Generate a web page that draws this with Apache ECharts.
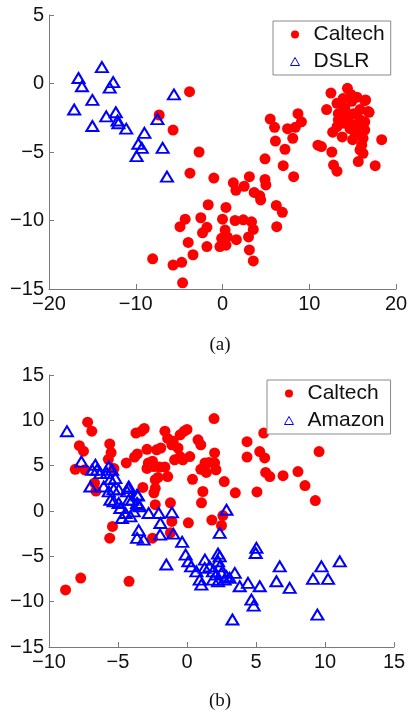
<!DOCTYPE html>
<html>
<head>
<meta charset="utf-8">
<script src="https://cdn.jsdelivr.net/npm/echarts@6/dist/echarts.min.js"></script>
<style>
html,body{margin:0;padding:0;background:#fff;}
#c{width:409px;height:713px;}
</style>
</head>
<body>
<div id="c"></div>
<script>
// ---- Panel (a): Caltech vs DSLR ----
var caltechA = [
  [-3.8,-0.6],[-7.3,-2.3],[-5.7,-3.4],[-2.7,-5.0],[-3.75,-6.55],[-1.0,-6.9],
  [5.5,-2.6],[6.0,-3.2],[7.5,-3.3],[8.7,-2.2],[9.1,-2.8],[8.4,-3.2],[8.1,-4.0],[6.1,-4.2],[7.2,-4.8],
  [4.9,-5.5],[7.0,-6.0],[8.2,-6.8],[4.9,-7.0],[5.0,-7.4],
  [11.0,-4.5],[11.4,-4.6],[12.6,-5.0],[12.8,-5.95],[13.2,-6.4],[12.5,-0.7],[14.4,-0.35],[12.0,-1.9],
  [13.2,-1.45],[13.9,-1.1],[14.9,-1.3],[16.4,-1.25],[16.8,-2.05],[15.85,-1.9],[13.35,-2.2],[14.1,-1.8],
  [15.1,-2.2],[13.35,-2.65],[14.5,-2.65],[15.85,-2.65],[16.4,-2.8],[13.2,-3.15],[14.7,-3.3],[15.85,-3.4],
  [12.7,-3.55],[16.4,-3.4],[15.3,-3.6],[16.2,-4.0],[16.05,-4.5],[18.35,-4.1],[15.85,-4.85],[16.2,-5.1],
  [15.65,-5.7],[17.6,-6.0],[16.5,-1.2],[16.9,-2.1],
  [14.0,-2.9],[15.5,-1.0],[13.8,-3.9],[15.0,-4.1],[14.8,-0.8],[15.4,-3.0],[14.3,-2.3],
  [1.25,-7.25],[1.55,-7.8],[2.5,-7.5],[3.1,-6.8],[3.65,-7.95],[4.4,-8.5],[4.3,-8.2],[6.2,-8.9],[6.9,-9.4],
  [6.25,-10.45],[-1.65,-8.85],[0.4,-9.05],[-4.3,-9.9],[-4.9,-10.45],[-2.5,-9.8],[-1.8,-10.5],[-2.3,-10.9],
  [0.0,-9.9],[1.45,-10.0],[2.4,-9.95],[3.35,-10.1],[3.55,-10.65],[3.0,-11.2],[0.3,-10.7],[0.55,-11.2],
  [-0.1,-11.3],[-0.3,-11.9],[0.4,-11.8],[1.6,-11.4],[-3.95,-11.6],[-1.8,-11.9],[-3.4,-12.5],[3.1,-12.15],
  [3.55,-12.95],[-8.05,-12.8],[-5.7,-13.25],[-4.7,-13.05],[-4.6,-14.55]
];
var dslrA = [
  [-13.9,1.2],[-16.6,0.4],[-16.2,-0.2],[-12.6,0.1],[-13.0,-0.3],[-15.0,-1.2],[-17.1,-1.9],[-13.4,-2.4],
  [-12.3,-2.1],[-12.1,-2.7],[-12.0,-2.9],[-15.0,-3.1],[-11.1,-3.3],[-5.6,-0.8],[-7.5,-2.6],[-9.0,-3.6],
  [-9.7,-4.4],[-9.3,-4.7],[-9.9,-5.3],[-6.9,-4.7],[-6.4,-6.8]
];
// ---- Panel (b): Caltech vs Amazon ----
var caltechB = [
  [-7.2,9.8],[-6.9,8.8],[-7.8,7.2],[-7.5,6.6],[-8.1,4.6],[-7.4,4.55],[-5.6,7.4],[-5.5,6.45],[-5.7,5.7],
  [-5.3,4.7],[-6.7,3.1],[-6.6,2.2],[-3.7,8.6],[-3.3,8.8],[-3.1,9.1],[-4.4,5.3],[-3.8,5.95],[-3.6,6.3],
  [-2.9,6.8],[-2.9,4.7],[-2.4,4.9],[-2.8,5.3],[-2.5,5.5],[-3.2,2.6],[-2.3,2.5],[-2.4,2.0],[-2.3,0.7],
  [-2.1,3.7],[-2.3,3.45],
  [-1.6,8.8],[-1.4,8.0],[-0.5,8.4],[-0.2,8.8],[0.0,9.0],[-1.0,7.7],[-1.1,7.3],[0.8,7.85],[1.0,7.3],
  [-2.2,6.75],[-1.9,6.95],[-0.65,6.95],[-0.5,6.0],[-0.9,5.65],[-0.3,5.65],[0.2,6.0],[1.3,5.3],[1.6,5.35],
  [2.0,5.3],[1.0,4.6],[1.4,4.25],[2.1,4.55],[-1.6,4.85],[-2.0,4.85],[0.4,3.5],[2.7,3.25],[1.15,2.15],
  [3.5,2.0],[1.05,0.9],[-1.4,3.8],[-1.2,0.9],[0.1,-1.3],[1.8,-1.0],[2.6,-0.5],[2.5,-1.6],[-1.1,-1.15],
  [-1.2,-2.4],[-2.5,-3.0],[-5.4,-1.7],[-5.6,-3.0],[-8.8,-8.7],[-7.7,-7.4],[-4.2,-7.75],
  [1.96,10.2],[2.0,6.4],[4.35,7.65],[5.56,8.6],[4.35,5.95],[5.27,6.55],[5.63,5.85],[5.7,4.25],[6.0,3.8],
  [5.07,2.1],[6.96,3.9],[8.04,4.35],[8.55,2.8],[9.3,1.15],[9.57,6.55]
];
var amazonB = [
  [-8.7,8.8],[-7.65,5.45],[-6.64,5.1],[-6.52,4.55],[-6.88,4.55],[-6.28,4.18],[-7.0,2.7],[-5.67,4.9],
  [-5.43,4.55],[-5.8,4.18],[-5.19,3.63],[-5.55,3.52],[-6.04,2.7],[-5.67,2.16],[-5.31,2.42],[-4.95,2.35],
  [-4.22,2.7],[-4.34,2.16],[-3.62,1.8],[-5.55,1.24],[-5.31,1.06],[-4.95,0.88],[-4.22,1.24],[-3.98,1.24],
  [-3.62,0.88],[-3.5,0.69],[-4.83,0.33],[-4.46,-0.22],[-4.1,-0.59],[-3.86,-0.04],[-4.71,-0.77],
  [-2.78,-0.22],[-2.05,-0.22],[-1.09,-0.15],[-1.93,-1.32],[-1.0,-2.5],[-1.95,-2.61],[-3.5,-2.1],
  [-3.62,-2.97],[-3.14,-3.16],[-0.35,-3.4],[-1.5,-5.9],[-0.1,-4.81],[0.1,-5.54],[1.3,-5.36],[0.3,-6.1],
  [2.86,0.14],[2.37,-2.42],[-4.27,2.53],[-3.55,1.69],[-3.43,0.51],[0.68,-6.65],[0.92,-7.57],[1.04,-8.12],
  [1.64,-6.1],[1.28,-6.28],[1.88,-6.65],[2.13,-7.01],[2.25,-7.75],[1.88,-7.57],[2.37,-5.0],[2.25,-5.54],
  [2.37,-6.1],[2.49,-6.83],[2.86,-7.2],[3.09,-7.38],[2.73,-7.57],[3.46,-6.83],[2.25,-4.7],[3.29,-11.97],
  [3.82,-8.3],[4.42,-7.93],[4.67,-9.77],[4.83,-10.43],[5.03,-4.07],[4.98,-4.63],[5.27,-8.3],[6.48,-7.75],
  [6.72,-6.1],[7.44,-8.48],[9.13,-7.49],[9.74,-6.1],[10.22,-7.49],[9.45,-11.42],[11.07,-5.55]
];
var xTicksA = {min:-20, max:20, interval:10};
var yTicksA = {min:-15, max:5, interval:5};
var xTicksB = {min:-10, max:15, interval:5};
var yTicksB = {min:-15, max:15, interval:5};
var captions = ['(a)', '(b)'];

var RED = '#ff0000', BLUE = '#0000ff', AXIS = '#7a7a7a';
var FONT = "'Liberation Sans', Arial, Helvetica, sans-serif";
function fmt(v){ return String(v).replace('-', '\u2212'); }
function axis(t, idx, isY){
  return {
    type:'value', gridIndex: idx, min:t.min, max:t.max, interval:t.interval,
    axisLine:{show:true, onZero:false, lineStyle:{color:AXIS, width:1}},
    axisTick:{show:true, inside:true, length:5, lineStyle:{color:AXIS}},
    splitLine:{show:false},
    axisLabel:{color:'#111', fontSize:20, fontFamily:FONT, margin:5, formatter: fmt, hideOverlap:false}
  };
}
function legend(idx, names, left, top){
  return {
    orient:'vertical', left:left, top:top,
    backgroundColor:'#fff', borderColor:'#8a8a8a', borderWidth:1, borderRadius:0,
    padding:[3, 6, 3, 17], itemGap:6, itemWidth:9, itemHeight:8,
    textStyle:{fontSize:21, fontFamily:FONT, color:'#111', padding:[0,0,0,9]},
    data:[
      {name:names[0], icon:'circle', itemStyle:{color:RED, borderWidth:0}},
      {name:names[1], icon:'triangle', itemStyle:{color:'rgba(0,0,0,0)', borderColor:BLUE, borderWidth:1}}
    ]
  };
}
function circ(name, data, idx){
  return {type:'scatter', name:name, xAxisIndex:idx, yAxisIndex:idx, data:data,
    symbol:'circle', symbolSize:11, itemStyle:{color:RED, opacity:1}, silent:true, z:2};
}
function tri(name, data, idx){
  return {type:'scatter', name:name, xAxisIndex:idx, yAxisIndex:idx, data:data,
    symbol:'triangle', symbolSize:[12,10],
    itemStyle:{color:'rgba(0,0,0,0)', borderColor:BLUE, borderWidth:2, opacity:1}, silent:true, z:3};
}

var chart = echarts.init(document.getElementById('c'), null, {renderer:'canvas'});
chart.setOption({
  backgroundColor:'#fff',
  animation:false,
  grid:[
    {left:49, right:13, top:15, bottom:424, containLabel:false, outerBoundsMode:'none'},
    {left:49, right:15, top:375, bottom:66, containLabel:false, outerBoundsMode:'none'}
  ],
  xAxis:[axis(xTicksA,0,false), axis(xTicksB,1,false)],
  yAxis:[axis(yTicksA,0,true), axis(yTicksB,1,true)],
  legend:[legend(0,['Caltech','DSLR'],273,21), legend(1,['Caltech','Amazon'],267,380)],
  graphic:[
    {type:'text', x:220, y:345, style:{text:captions[0], fontSize:19, fontFamily:"'Liberation Serif', 'Times New Roman', serif", fill:'#111', textAlign:'center', textVerticalAlign:'middle'}},
    {type:'text', x:220, y:701, style:{text:captions[1], fontSize:19, fontFamily:"'Liberation Serif', 'Times New Roman', serif", fill:'#111', textAlign:'center', textVerticalAlign:'middle'}}
  ],
  series:[
    circ('Caltech', caltechA, 0),
    tri('DSLR', dslrA, 0),
    circ('Caltech', caltechB, 1),
    tri('Amazon', amazonB, 1)
  ]
});
</script>
</body>
</html>
